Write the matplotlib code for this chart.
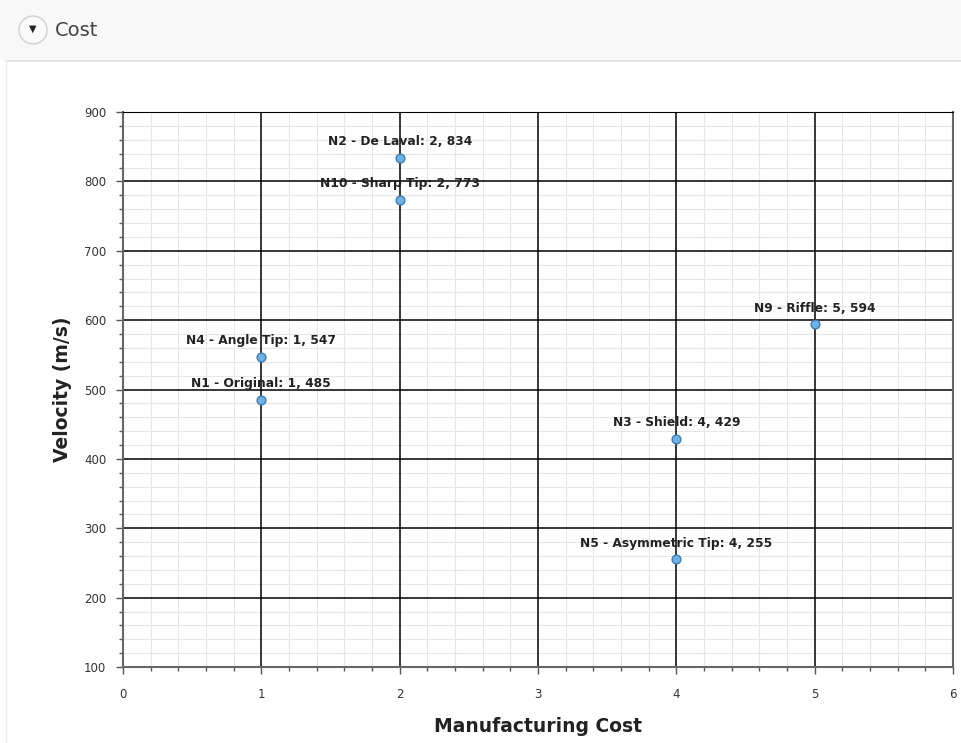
import numpy as np
import matplotlib.pyplot as plt
from matplotlib.patches import Ellipse, Rectangle
from matplotlib.ticker import FixedLocator

names = ['N1 - Original', 'N2 - De Laval', 'N3 - Shield', 'N4 - Angle Tip',
         'N5 - Asymmetric Tip', 'N9 - Riffle', 'N10 - Sharp Tip']
cost = [1, 2, 4, 1, 4, 5, 2]
velocity = [485, 834, 429, 547, 255, 594, 773]

fig = plt.figure(figsize=(9.61, 7.43), dpi=100)
fig.patch.set_facecolor('white')

# header bar with the collapse button
fig.patches.append(Rectangle((0, 1 - 60 / 743), 1, 60 / 743, transform=fig.transFigure,
                             facecolor='#f8f8f8', edgecolor='none', zorder=0))
fig.lines.append(plt.Line2D([0.006, 1], [1 - 61 / 743] * 2, transform=fig.transFigure,
                            color='#e2e2e2', lw=1.2))
fig.lines.append(plt.Line2D([0.006, 0.006], [0, 1 - 61 / 743], transform=fig.transFigure,
                            color='#eeeeee', lw=1))
fig.patches.append(Ellipse((33 / 961, 1 - 30 / 743), 28 / 961, 28 / 743, transform=fig.transFigure,
                           facecolor='#fafafa', edgecolor='#cfcfcf', lw=1))
fig.text(33 / 961, 1 - 29 / 743, '▼', fontsize=7, ha='center', va='center', color='#222222')
fig.text(55 / 961, 1 - 31 / 743, 'Cost', fontsize=14, ha='left', va='center', color='#444444')

ax = fig.add_axes([123 / 961, 76 / 743, 830 / 961, 555 / 743])
ax.set_xlim(0, 6)
ax.set_ylim(100, 900)
ax.set_xticks(range(0, 7))
ax.set_yticks(range(100, 1000, 100))
ax.xaxis.set_minor_locator(FixedLocator([i / 5 for i in range(31) if i % 5]))
ax.yaxis.set_minor_locator(FixedLocator([v for v in range(100, 901, 20) if v % 100]))
ax.grid(which='minor', color='#e6e6e6', lw=0.8)
ax.set_axisbelow(True)
# major grid drawn above the minor one so crossings stay solid
for xt in ax.get_xticks():
    ax.axvline(xt, color='black', lw=1.1, zorder=1)
for yt in ax.get_yticks():
    ax.axhline(yt, color='black', lw=1.1, zorder=1)
for side in ['left', 'bottom', 'right']:
    ax.spines[side].set_color('#666666')
    ax.spines[side].set_linewidth(1.5)
    ax.spines[side].set_zorder(2)
ax.spines['top'].set_color('black')
ax.tick_params(which='both', direction='out', color='#555555', labelsize=8.5,
               labelcolor='#333333')
ax.tick_params(which='major', length=5, width=1)
ax.tick_params(which='minor', length=3, width=1)
ax.tick_params(axis='x', pad=10)
ax.tick_params(axis='y', pad=7)

ax.scatter(cost, velocity, s=40, facecolor='#6fb1e3', edgecolor='#3d7fb5', lw=1, zorder=3)
for n, c, v in zip(names, cost, velocity):
    ax.annotate(f'{n}: {c}, {v}', (c, v), xytext=(0, 7), textcoords='offset points',
                ha='center', va='bottom', fontsize=8.8, fontweight='bold', color='#222222')

ax.set_xlabel('Manufacturing Cost', fontsize=13.5, fontweight='bold', labelpad=12, color='#222222')
ax.set_ylabel('Velocity (m/s)', fontsize=13.5, fontweight='bold', labelpad=9, color='#222222')

fig.savefig('out.png', dpi=100)
